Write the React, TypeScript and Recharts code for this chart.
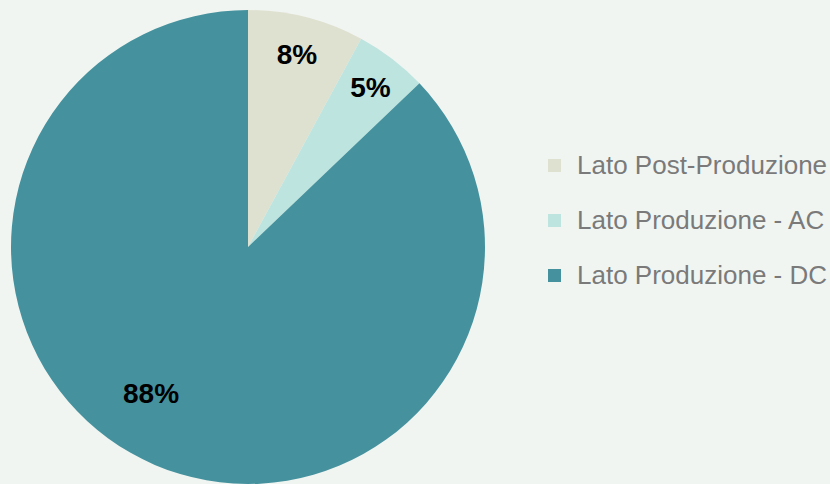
import React from 'react';
import { PieChart, Pie, Cell, Legend } from 'recharts';

// Chart data
const categories = ['Lato Post-Produzione', 'Lato Produzione - AC', 'Lato Produzione - DC'];
const shares = [8, 5, 88];
const COLORS = ['#dfe1d0', '#bde4df', '#45929e'];

const data = categories.map((name, i) => ({ name, value: shares[i] }));

const RADIAN = Math.PI / 180;

// small per-slice nudges so labels sit where the original puts them
const LABEL_RADIUS = [0.84, 0.85, 0.74];
const LABEL_ANGLE_SHIFT = [0, 0, -10.4];

const renderLabel = (props: any) => {
    const { cx, cy, midAngle, outerRadius, index, value } = props;
    const r = outerRadius * LABEL_RADIUS[index];
    const a = midAngle + LABEL_ANGLE_SHIFT[index];
    const x = cx + r * Math.cos(-a * RADIAN);
    const y = cy + r * Math.sin(-a * RADIAN);
    return (
        <text
            x={x}
            y={y}
            fill="#000"
            textAnchor="middle"
            dominantBaseline="central"
            style={{ fontFamily: '"Liberation Sans", Arial, sans-serif', fontSize: 28, fontWeight: 700 }}
        >
            {`${value}%`}
        </text>
    );
};

const renderLegend = () => (
    <div style={{ fontFamily: '"Liberation Sans", Arial, sans-serif' }}>
        {data.map((entry, i) => (
            <div key={entry.name} style={{ display: 'flex', alignItems: 'center', height: 55 }}>
                <span style={{ display: 'inline-block', width: 13, height: 13, background: COLORS[i], marginRight: 16 }} />
                <span style={{ fontSize: 26, color: '#7a7a7a', whiteSpace: 'nowrap' }}>{entry.name}</span>
            </div>
        ))}
    </div>
);

const App: React.FC = () => {
    return (
        <div style={{ width: 830, height: 484, background: '#f1f5f2', overflow: 'hidden', position: 'relative' }}>
            <style>{'body{margin:0}'}</style>
            <PieChart width={830} height={484} margin={{ top: 0, right: 0, bottom: 0, left: 0 }}>
                <Pie
                    data={data}
                    dataKey="value"
                    cx={248}
                    cy={247}
                    outerRadius={237}
                    startAngle={90}
                    endAngle={-270}
                    stroke="none"
                    label={renderLabel}
                    labelLine={false}
                    isAnimationActive={false}
                >
                    {data.map((entry, index) => (
                        <Cell key={`cell-${index}`} fill={COLORS[index % COLORS.length]} />
                    ))}
                </Pie>
                <Legend
                    content={renderLegend}
                    layout="vertical"
                    wrapperStyle={{ left: 548, top: 138, width: 290 }}
                />
            </PieChart>
        </div>
    );
};

export default App;
